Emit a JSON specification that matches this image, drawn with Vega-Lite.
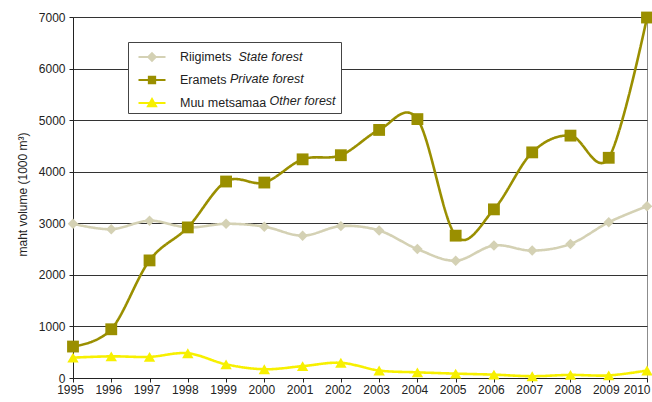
{
  "$schema": "https://vega.github.io/schema/vega-lite/v6.json",
  "width": 574,
  "height": 361,
  "autosize": "none",
  "padding": {"left": 73, "top": 17, "right": 5, "bottom": 24},
  "background": "white",
  "config": {
    "font": "Liberation Sans",
    "view": {"stroke": "#8c8c8c", "strokeWidth": 1},
    "axis": {"labelFont": "Liberation Sans", "titleFont": "Liberation Sans", "labelColor": "#222", "titleColor": "#222", "domainColor": "#222", "tickColor": "#222", "tickSize": 4, "labelFontSize": 12, "labelPadding": 2}
  },
  "data": {"values": [
    {"year": 1995, "series": "Riigimets", "en": "State forest", "value": 2990},
    {"year": 1996, "series": "Riigimets", "en": "State forest", "value": 2885},
    {"year": 1997, "series": "Riigimets", "en": "State forest", "value": 3050},
    {"year": 1998, "series": "Riigimets", "en": "State forest", "value": 2920},
    {"year": 1999, "series": "Riigimets", "en": "State forest", "value": 2990},
    {"year": 2000, "series": "Riigimets", "en": "State forest", "value": 2935},
    {"year": 2001, "series": "Riigimets", "en": "State forest", "value": 2760},
    {"year": 2002, "series": "Riigimets", "en": "State forest", "value": 2945},
    {"year": 2003, "series": "Riigimets", "en": "State forest", "value": 2860},
    {"year": 2004, "series": "Riigimets", "en": "State forest", "value": 2500},
    {"year": 2005, "series": "Riigimets", "en": "State forest", "value": 2275},
    {"year": 2006, "series": "Riigimets", "en": "State forest", "value": 2570},
    {"year": 2007, "series": "Riigimets", "en": "State forest", "value": 2470},
    {"year": 2008, "series": "Riigimets", "en": "State forest", "value": 2600},
    {"year": 2009, "series": "Riigimets", "en": "State forest", "value": 3020},
    {"year": 2010, "series": "Riigimets", "en": "State forest", "value": 3330},
    {"year": 1995, "series": "Eramets", "en": "Private forest", "value": 610},
    {"year": 1996, "series": "Eramets", "en": "Private forest", "value": 945},
    {"year": 1997, "series": "Eramets", "en": "Private forest", "value": 2280},
    {"year": 1998, "series": "Eramets", "en": "Private forest", "value": 2920},
    {"year": 1999, "series": "Eramets", "en": "Private forest", "value": 3810},
    {"year": 2000, "series": "Eramets", "en": "Private forest", "value": 3790},
    {"year": 2001, "series": "Eramets", "en": "Private forest", "value": 4240},
    {"year": 2002, "series": "Eramets", "en": "Private forest", "value": 4320},
    {"year": 2003, "series": "Eramets", "en": "Private forest", "value": 4810},
    {"year": 2004, "series": "Eramets", "en": "Private forest", "value": 5020},
    {"year": 2005, "series": "Eramets", "en": "Private forest", "value": 2760},
    {"year": 2006, "series": "Eramets", "en": "Private forest", "value": 3270},
    {"year": 2007, "series": "Eramets", "en": "Private forest", "value": 4375},
    {"year": 2008, "series": "Eramets", "en": "Private forest", "value": 4700},
    {"year": 2009, "series": "Eramets", "en": "Private forest", "value": 4270},
    {"year": 2010, "series": "Eramets", "en": "Private forest", "value": 6990},
    {"year": 1995, "series": "Muu metsamaa", "en": "Other forest", "value": 395},
    {"year": 1996, "series": "Muu metsamaa", "en": "Other forest", "value": 420},
    {"year": 1997, "series": "Muu metsamaa", "en": "Other forest", "value": 410},
    {"year": 1998, "series": "Muu metsamaa", "en": "Other forest", "value": 480},
    {"year": 1999, "series": "Muu metsamaa", "en": "Other forest", "value": 265},
    {"year": 2000, "series": "Muu metsamaa", "en": "Other forest", "value": 170},
    {"year": 2001, "series": "Muu metsamaa", "en": "Other forest", "value": 230},
    {"year": 2002, "series": "Muu metsamaa", "en": "Other forest", "value": 295},
    {"year": 2003, "series": "Muu metsamaa", "en": "Other forest", "value": 145},
    {"year": 2004, "series": "Muu metsamaa", "en": "Other forest", "value": 110},
    {"year": 2005, "series": "Muu metsamaa", "en": "Other forest", "value": 85},
    {"year": 2006, "series": "Muu metsamaa", "en": "Other forest", "value": 65},
    {"year": 2007, "series": "Muu metsamaa", "en": "Other forest", "value": 35},
    {"year": 2008, "series": "Muu metsamaa", "en": "Other forest", "value": 60},
    {"year": 2009, "series": "Muu metsamaa", "en": "Other forest", "value": 50},
    {"year": 2010, "series": "Muu metsamaa", "en": "Other forest", "value": 145}
  ]},
  "encoding": {
    "x": {
      "field": "year", "type": "quantitative",
      "scale": {"domain": [1995, 2010], "nice": false, "zero": false},
      "axis": {
        "values": [1995, 1996, 1997, 1998, 1999, 2000, 2001, 2002, 2003, 2004, 2005, 2006, 2007, 2008, 2009, 2010],
        "format": "d", "grid": false, "title": null, "labelFlush": false, "labelOverlap": false,
        "labelAlign": {"condition": {"test": "datum.value == 2010", "value": "right"}, "value": "center"},
        "labelOffset": {"condition": {"test": "datum.value == 2010", "value": 3}, "value": -3}
      }
    },
    "y": {
      "field": "value", "type": "quantitative",
      "scale": {"domain": [0, 7000], "nice": false},
      "axis": {
        "values": [0, 1000, 2000, 3000, 4000, 5000, 6000, 7000], "format": "d", "labelPadding": 4,
        "grid": true, "gridColor": "#333", "gridWidth": 1,
        "title": "maht volume (1000 m³)", "titleFontWeight": "normal", "titleFontSize": 12, "titlePadding": 9, "titleY": 177
      }
    }
  },
  "layer": [
    {
      "mark": {"type": "line", "interpolate": "cardinal", "strokeWidth": 2.6},
      "encoding": {
        "color": {
          "field": "series", "type": "nominal",
          "scale": {"domain": ["Riigimets", "Eramets", "Muu metsamaa"], "range": ["#d4d1b4", "#9a8f00", "#f7f000"]},
          "legend": {
            "orient": "none", "legendX": 55, "legendY": 25, "title": null, "padding": 5,
            "symbolSize": 324, "symbolOffset": 9, "labelOffset": 18, "labelFontSize": 12.5, "labelColor": "#222",
            "rowPadding": 5, "symbolStrokeWidth": 2, "zindex": 2,
            "encode": {"symbols": {"update": {
              "shape": {"signal": "datum.value == 'Eramets' ? 'M-1.5,0H1.5M-0.35,-0.35H0.35V0.35H-0.35Z' : datum.value == 'Riigimets' ? 'M-1.5,0H1.5M0,-0.42L0.42,0L0,0.42L-0.42,0Z' : 'M-1.5,0H1.5M0,-0.45L0.45,0.35L-0.45,0.35Z'"},
              "fill": {"signal": "datum.value == 'Eramets' ? '#9a8f00' : datum.value == 'Riigimets' ? '#d4d1b4' : '#f7f000'"},
              "stroke": {"signal": "datum.value == 'Eramets' ? '#9a8f00' : datum.value == 'Riigimets' ? '#d4d1b4' : '#f7f000'"},
              "strokeWidth": {"value": 2},
              "size": {"value": 324},
              "opacity": {"value": 1}
            }}}
          }
        },
        "strokeDash": {
          "field": "en", "type": "nominal",
          "scale": {"domain": ["State forest", "Private forest", "Other forest"], "range": [[1, 0], [1, 0], [1, 0]]},
          "legend": {
            "orient": "none", "legendX": 55, "legendY": 25, "title": null, "padding": 5,
            "symbolSize": 324, "symbolOffset": 9, "labelOffset": 18, "labelFontSize": 12.5, "labelFontStyle": "italic", "labelColor": "#222",
            "rowPadding": 5, "strokeColor": "#444", "fillColor": "white", "zindex": 1, "symbolOpacity": 0,
            "labelExpr": "datum.label == 'Other forest' ? datum.label + '\u00a0' : datum.label",
            "encode": {
              "symbols": {"update": {"opacity": {"value": 0}}},
              "labels": {"update": {"dx": {"signal": "datum.value == 'State forest' ? 58.5 : datum.value == 'Private forest' ? 50 : 89.6"}}}
            }
          }
        }
      }
    },
    {
      "mark": {"type": "point", "filled": true, "opacity": 1},
      "encoding": {
        "color": {"field": "series", "type": "nominal"},
        "shape": {
          "condition": [
            {"test": "datum.series == 'Riigimets'", "value": "diamond"},
            {"test": "datum.series == 'Eramets'", "value": "square"}
          ],
          "value": "triangle-up"
        },
        "size": {
          "condition": [
            {"test": "datum.series == 'Riigimets'", "value": 110},
            {"test": "datum.series == 'Eramets'", "value": 140}
          ],
          "value": 130
        }
      }
    }
  ]
}
